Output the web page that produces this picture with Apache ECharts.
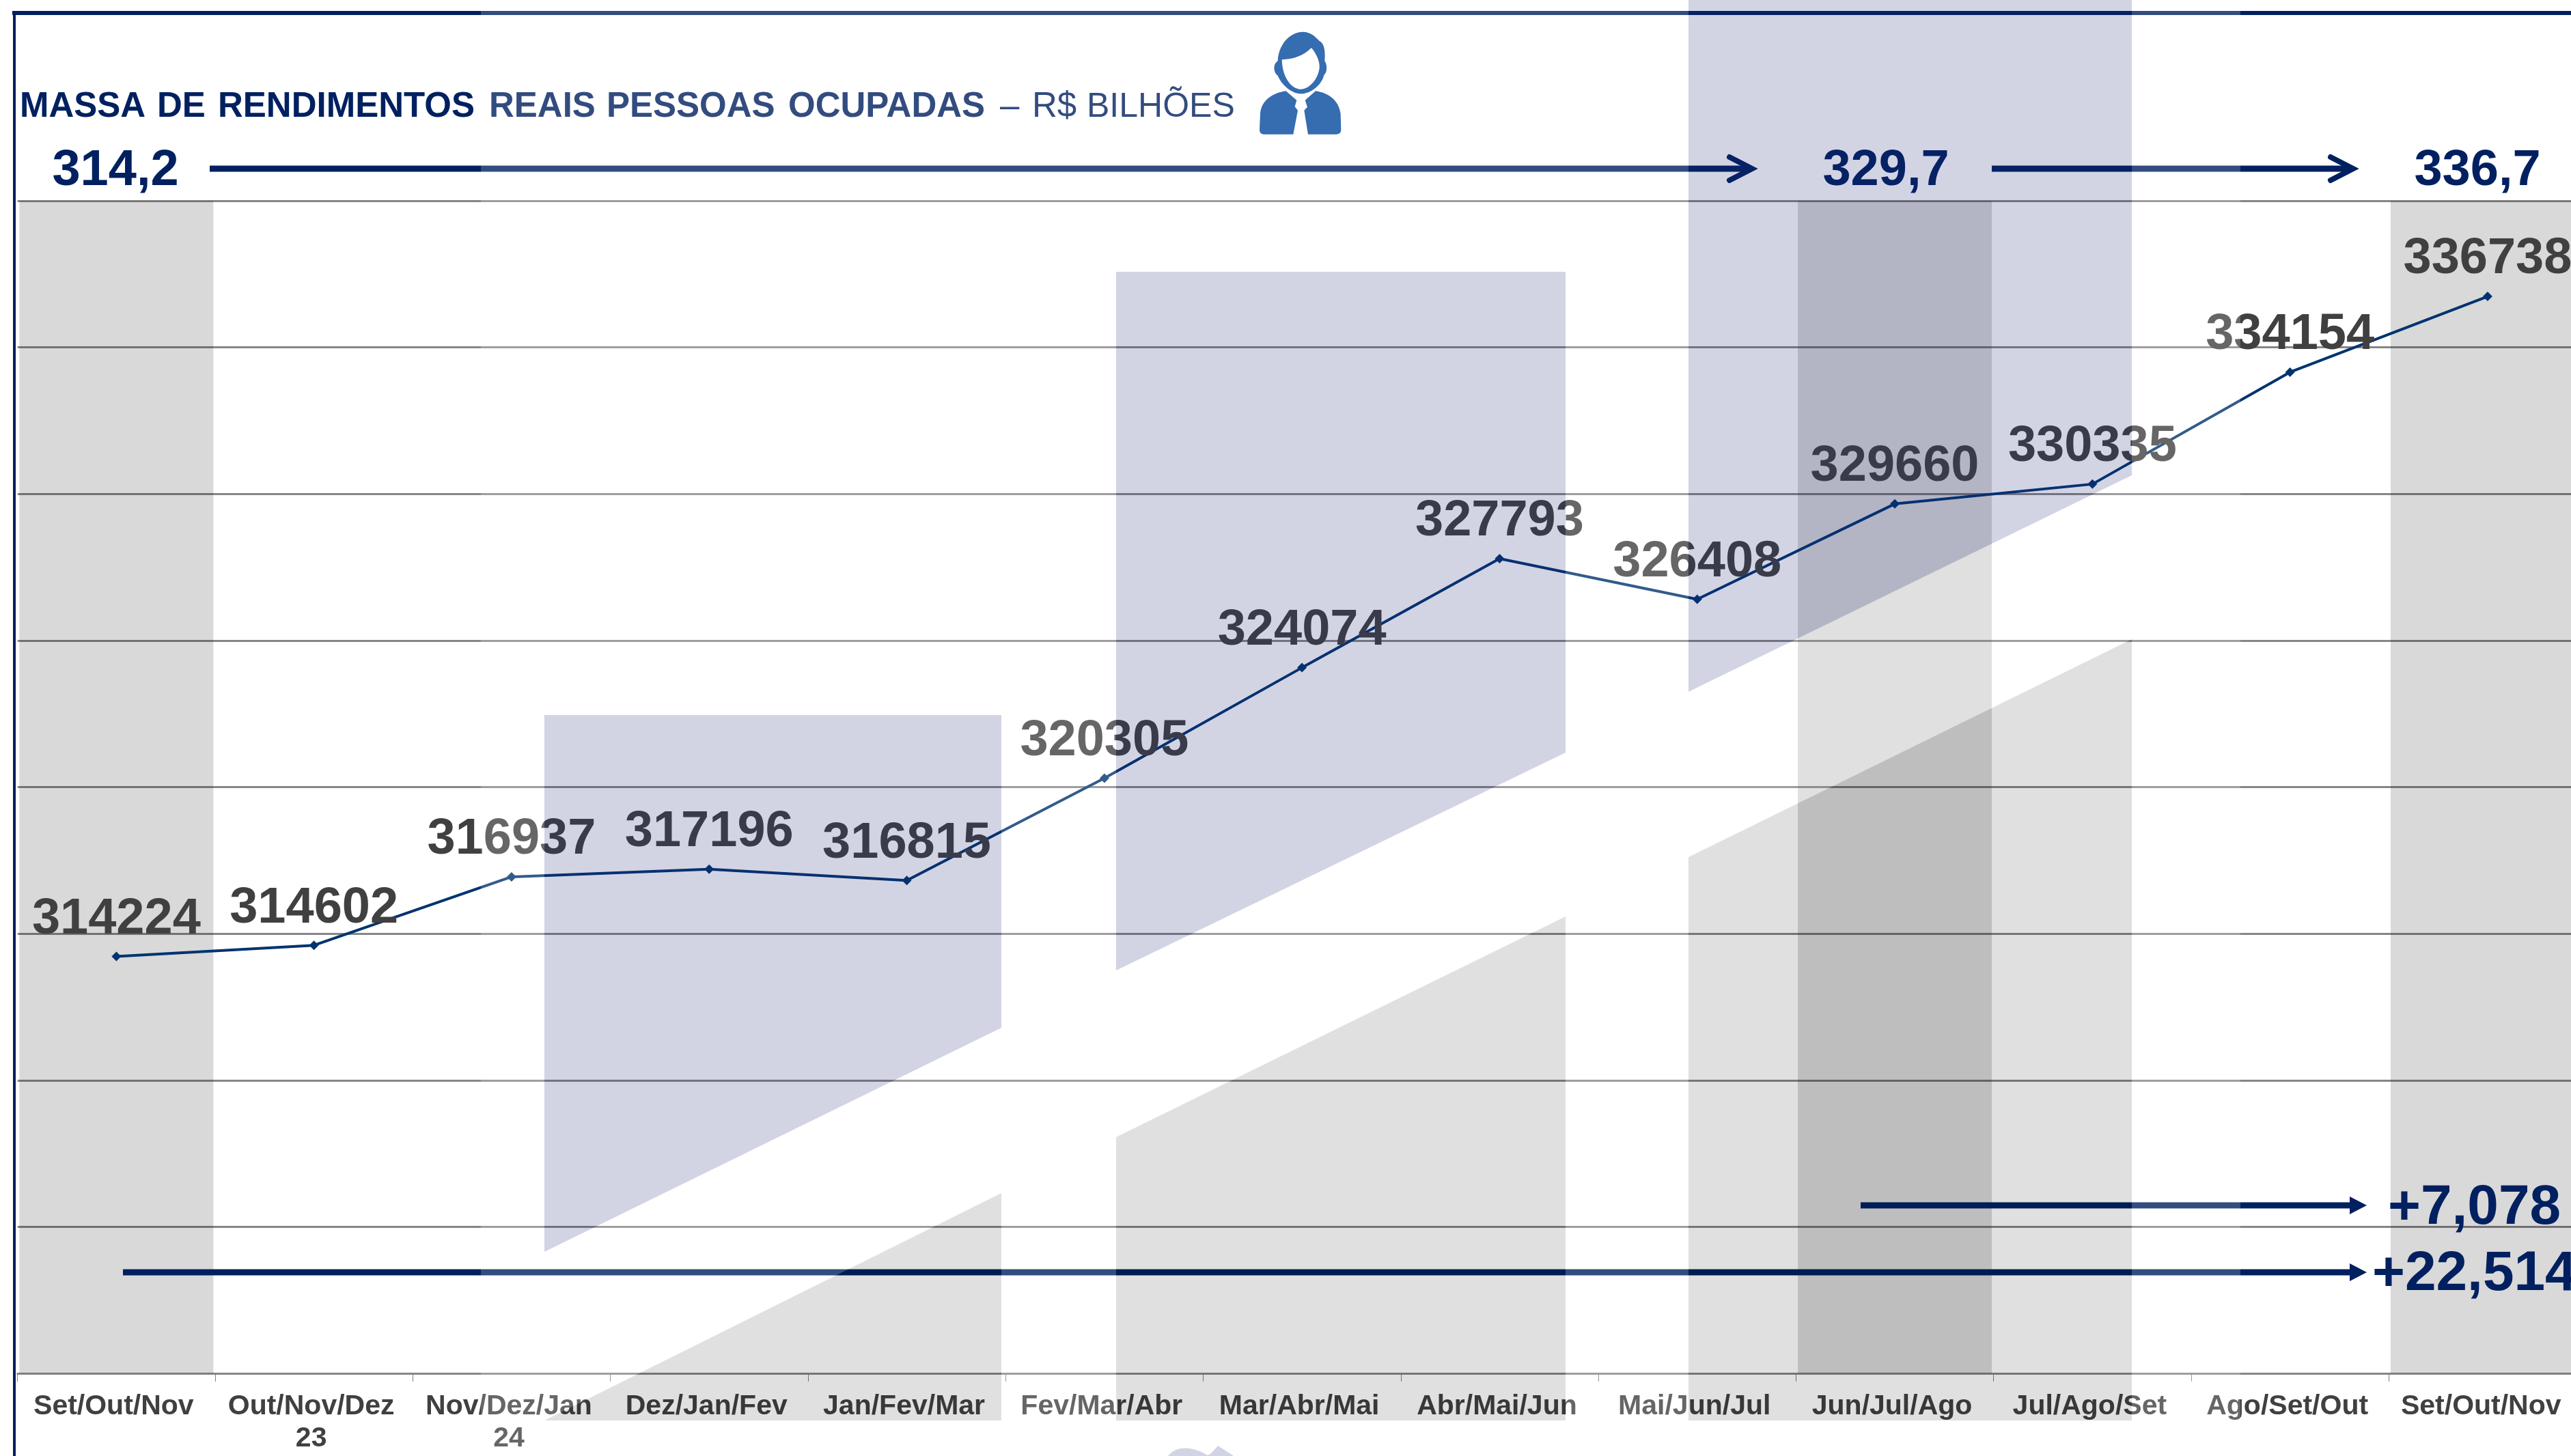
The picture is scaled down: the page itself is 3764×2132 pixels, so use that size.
<!DOCTYPE html>
<html>
<head>
  <meta charset="utf-8">
  <title>Massa de rendimentos</title>
  <script src="https://cdn.jsdelivr.net/npm/echarts@6/dist/echarts.min.js"></script>
  <style>
    html,body{margin:0;padding:0;background:#fff;overflow:hidden;}
    #chart{width:3764px;height:2132px;}
  </style>
</head>
<body>
<div id="chart"></div>
<script type="text/javascript">
var categories = ['Set/Out/Nov','Out/Nov/Dez\n23','Nov/Dez/Jan\n24','Dez/Jan/Fev','Jan/Fev/Mar','Fev/Mar/Abr','Mar/Abr/Mai','Abr/Mai/Jun','Mai/Jun/Jul','Jun/Jul/Ago','Jul/Ago/Set','Ago/Set/Out','Set/Out/Nov '];
var massa = [314224,314602,316937,317196,316815,320305,324074,327793,326408,329660,330335,334154,336738];
// trimestres destacados em cinza
var destaque = [0,9,12];
var yMin = 300000;
var yMax = 340000;
var yStep = 5000;

var navy = '#002060';
var fonte = '"Liberation Sans", Arial, sans-serif';

var dadosDestaque = categories.map(function(c,i){
  return destaque.indexOf(i) >= 0 ? yMax : null;
});

// texto solto
function txt(text,x,y,size,weight,align,color,z){
  return {type:'text',z:z||50,x:x,y:y,silent:true,style:{
    text:text,font:weight+' '+size+'px '+fonte,fill:color||navy,align:align||'left',verticalAlign:'middle'
  }};
}
function linha(x1,y,x2,w){
  return {type:'line',z:50,silent:true,shape:{x1:x1,y1:y,x2:x2,y2:y},style:{stroke:navy,lineWidth:w}};
}
function poly(pts,fill,z){
  return {type:'polygon',z:z,silent:true,shape:{points:pts},style:{fill:fill}};
}

var els = [];

// moldura
els.push({type:'line',z:50,silent:true,shape:{x1:21,y1:16,x2:21,y2:2132},style:{stroke:navy,lineWidth:4}});
els.push(linha(18,19,3764,6));

// titulo
var palavras = [['MASSA',29],['DE',230],['RENDIMENTOS',319],['REAIS',716],['PESSOAS',888],['OCUPADAS',1154]];
palavras.forEach(function(p){ els.push(txt(p[0],p[1],157,51,'bold')); });
els.push(txt('\u2013',1464,157,51,'normal'));
els.push(txt('R$',1511,157,51,'normal'));
els.push(txt('BILH\u00d5ES',1591,157,50,'normal'));

// valores em bilhoes e setas
els.push(txt('314,2',169,251,74,'bold','center'));
els.push(txt('329,7',2761,251,74,'bold','center'));
els.push(txt('336,7',3627,251,74,'bold','center'));
els.push(linha(307,247,2563,9));
els.push(linha(2916,247,3443,9));
[2568,3448].forEach(function(x){
  els.push({type:'polyline',z:50,silent:true,shape:{points:[[x-36,230],[x-3,247],[x-36,264]]},
    style:{stroke:navy,lineWidth:8,fill:null,lineCap:'round',lineJoin:'miter'}});
});

els.push(linha(2724,1765,3445,9));
els.push(poly([[3440,1752],[3465,1765],[3440,1778]],navy,50));
els.push(linha(180,1863,3445,9));
els.push(poly([[3440,1850],[3465,1863],[3440,1876]],navy,50));
els.push(txt('+7,078',3496,1769,82,'bold'));
els.push(txt('+22,514',3473,1866,82,'bold'));

// marca d'agua: tres blocos lilas e tres cinzas, com veu branco no resto
var lilas = 'rgba(30,40,120,0.2)';
var cinza = 'rgba(0,0,0,0.12)';
var veu = 'rgba(255,255,255,0.2)';
var blocos = [
  {x0:797,x1:1466,top:1047,bl:1833,br:1505,gl:2080,gr:1747},
  {x0:1634,x1:2292,top:398,bl:1421,br:1102,gl:1665,gr:1342},
  {x0:2472,x1:3121,top:0,bl:1013,br:696,gl:1255,gr:936}
];
var H = 2132, gb = 2080;
blocos.forEach(function(b){
  els.push(poly([[b.x0,b.top],[b.x1,b.top],[b.x1,b.br],[b.x0,b.bl]],lilas,60));
  var pts = b.gl >= gb ? [[b.x0,gb],[b.x1,gb],[b.x1,b.gr]] : [[b.x0,gb],[b.x1,gb],[b.x1,b.gr],[b.x0,b.gl]];
  els.push(poly(pts,cinza,60));
  // veu acima, na faixa diagonal e abaixo
  if(b.top > 0) els.push(poly([[b.x0,0],[b.x1,0],[b.x1,b.top],[b.x0,b.top]],veu,60));
  els.push(poly([[b.x0,b.bl],[b.x1,b.br],[b.x1,b.gr],[b.x0,b.gl]],veu,60));
  els.push(poly([[b.x0,gb],[b.x1,gb],[b.x1,H],[b.x0,H]],veu,60));
});
[[704,797],[1466,1634],[2292,2472],[3121,3280]].forEach(function(f){
  els.push(poly([[f[0],0],[f[1],0],[f[1],H],[f[0],H]],veu,60));
});

// icone pessoa e pedaco de logo cortado no rodape
var icone = 'M152 178 C155 110 200 52 262 50 C300 50 320 75 335 90 C355 100 362 130 358 178 C368 190 372 225 355 240 C345 285 295 322 255 322 C215 322 170 285 152 242 C132 230 130 190 152 178 Z '
  + 'M188 310 L235 350 L227 378 L240 395 L220 500 L90 500 Q72 498 72 480 L75 410 C80 350 130 318 188 310 Z '
  + 'M318 310 L272 350 L282 380 L268 395 L285 500 L410 500 Q430 498 430 480 L428 410 C420 350 375 318 318 310 Z';
var rosto = 'M170 172 C220 170 265 155 300 120 C325 150 338 185 335 210 C328 260 290 302 252 302 C215 302 172 255 170 172 Z';
var logo = 'M1710 2132 C1725 2112 1755 2122 1768 2131 C1775 2128 1778 2122 1783 2117 L1805 2131 L1805 2132 Z';

function desenhos(){
  return {type:'group',children:[
    {type:'path',x:1820,y:30,scaleX:1/3,scaleY:1/3,shape:{pathData:icone},style:{fill:'#366cb0'}},
    {type:'path',x:1820,y:30,scaleX:1/3,scaleY:1/3,shape:{pathData:rosto},style:{fill:'#fff'}},
    {type:'path',shape:{pathData:logo},style:{fill:'#d2d4e4'}}
  ]};
}

var chart = echarts.init(document.getElementById('chart'));
chart.setOption({
  animation:false,
  backgroundColor:'#fff',
  // a grade passa da borda direita da figura
  grid:{left:25.7,top:294,width:3760.9,height:1717,outerBoundsMode:'none'},
  xAxis:{
    type:'category',
    data:categories,
    axisLine:{lineStyle:{color:'#868686',width:3}},
    axisTick:{show:true,length:12,lineStyle:{color:'#808080',width:1}},
    axisLabel:{interval:0,margin:25,padding:[0,8,0,0],color:'#404040',fontFamily:'Liberation Sans',fontWeight:'bold',fontSize:41,lineHeight:47}
  },
  yAxis:{
    type:'value',
    min:yMin,
    max:yMax,
    interval:yStep,
    axisLine:{show:false},
    axisTick:{show:false},
    axisLabel:{show:false},
    splitLine:{lineStyle:{color:'#868686',width:3}}
  },
  series:[
    {
      type:'bar',
      z:1,
      silent:true,
      data:dadosDestaque,
      barWidth:284,
      itemStyle:{color:'rgba(0,0,0,0.15)'}
    },
    {
      type:'line',
      z:3,
      data:massa,
      symbol:'diamond',
      symbolSize:14,
      lineStyle:{color:'#00336f',width:4},
      itemStyle:{color:'#00336f'},
      label:{
        show:true,
        position:'top',
        distance:10,
        color:'#404040',
        fontFamily:'Liberation Sans',
        fontWeight:'bold',
        fontSize:74
      }
    },
    {
      type:'custom',
      coordinateSystem:'none',
      z:70,
      silent:true,
      data:[0],
      renderItem:desenhos
    }
  ],
  graphic:{elements:els}
});
</script>
</body>
</html>
